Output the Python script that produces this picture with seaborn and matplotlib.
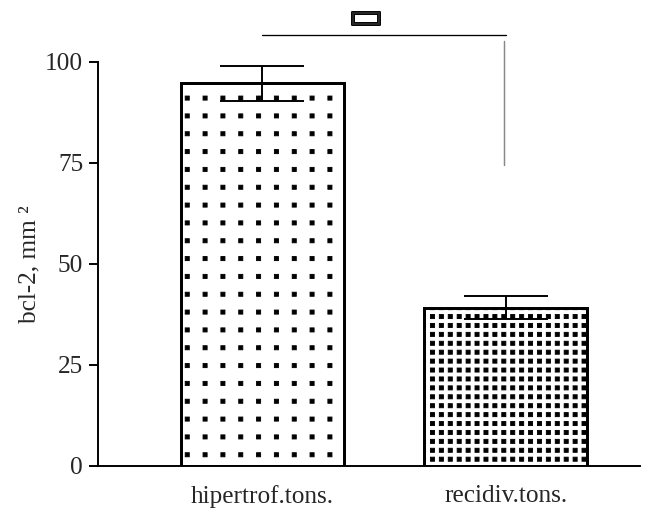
import numpy as np
import matplotlib
matplotlib.use("Agg")
import matplotlib.pyplot as plt
import matplotlib.hatch as mhatch
import matplotlib.patheffects as pe
from matplotlib.path import Path
import seaborn as sns

# ---- data ----
categories = ["hipertrof.tons.", "recidiv.tons."]
means = [94.7, 39.1]
errors = [4.35, 2.8]
yticks = [0, 25, 50, 75, 100]
ylabel = "bcl-2, mm \u00b2"
sig_symbol = "\u25ad"


# ---- custom hatch: square dots on a straight grid ----
class SquareDots(mhatch.HatchPatternBase):
    half = 0.019

    def __init__(self, hatch, density):
        self.n = hatch.count('.') * density
        self.num_vertices = 5 * self.n * self.n

    def set_vertices_and_codes(self, vertices, codes):
        n = self.n
        h = self.half
        k = 0
        for i in range(n):
            for j in range(n):
                cx = (i + 0.5) / n
                cy = (j + 0.5) / n
                vertices[k:k + 5] = [(cx - h, cy - h), (cx + h, cy - h),
                                     (cx + h, cy + h), (cx - h, cy + h),
                                     (cx - h, cy - h)]
                codes[k:k + 5] = [Path.MOVETO, Path.LINETO, Path.LINETO,
                                  Path.LINETO, Path.CLOSEPOLY]
                k += 5


mhatch._hatch_types[:] = [SquareDots if t is mhatch.SmallFilledCircles else t
                          for t in mhatch._hatch_types]

sns.set_style("ticks")
plt.rcParams['font.family'] = ['Liberation Serif', 'DejaVu Sans']
plt.rcParams['hatch.linewidth'] = 0.6

DPI = 107
fig = plt.figure(figsize=(661 / DPI, 513 / DPI), dpi=DPI)
ax = fig.add_axes([98 / 661, 1 - 465.5 / 513, 542 / 661, (465.5 - 62) / 513])

sns.barplot(x=categories, y=means, ax=ax, width=0.669, color="white",
            edgecolor="black", linewidth=2.0, errorbar=None, saturation=1)
for patch, h in zip(ax.patches, ['.', '..']):
    patch.set_hatch(h)
    patch.set_facecolor("white")

ax.errorbar(x=range(len(means)), y=means, yerr=errors, fmt='none',
            ecolor='black', elinewidth=1.3, capsize=28, capthick=1.3, zorder=5)

ax.set_xlim(-0.674, 1.55)
ax.set_ylim(0, 100)
ax.set_yticks(yticks)
ax.set_ylabel(ylabel, fontsize=17, labelpad=3)
ax.tick_params(axis='y', length=6, width=1.3, labelsize=17, pad=4, color='black')
ax.tick_params(axis='x', length=0, labelsize=17, pad=13)
for s in ['left', 'bottom']:
    ax.spines[s].set_linewidth(1.3)
    ax.spines[s].set_color('black')
sns.despine(ax=ax)

# significance bracket
ax.plot([0, 1.0], [106.7, 106.7], color='black', lw=0.9, clip_on=False)
ax.plot([0.99, 0.99], [105.2, 74.5], color='#888888', lw=1.0, clip_on=False)
ax.text(0.425, 111.0, sig_symbol, ha='center', va='center', fontsize=25,
        family=['DejaVu Sans'], clip_on=False,
        path_effects=[pe.withStroke(linewidth=1.3, foreground='black')])

fig.savefig("out.png", dpi=DPI)
